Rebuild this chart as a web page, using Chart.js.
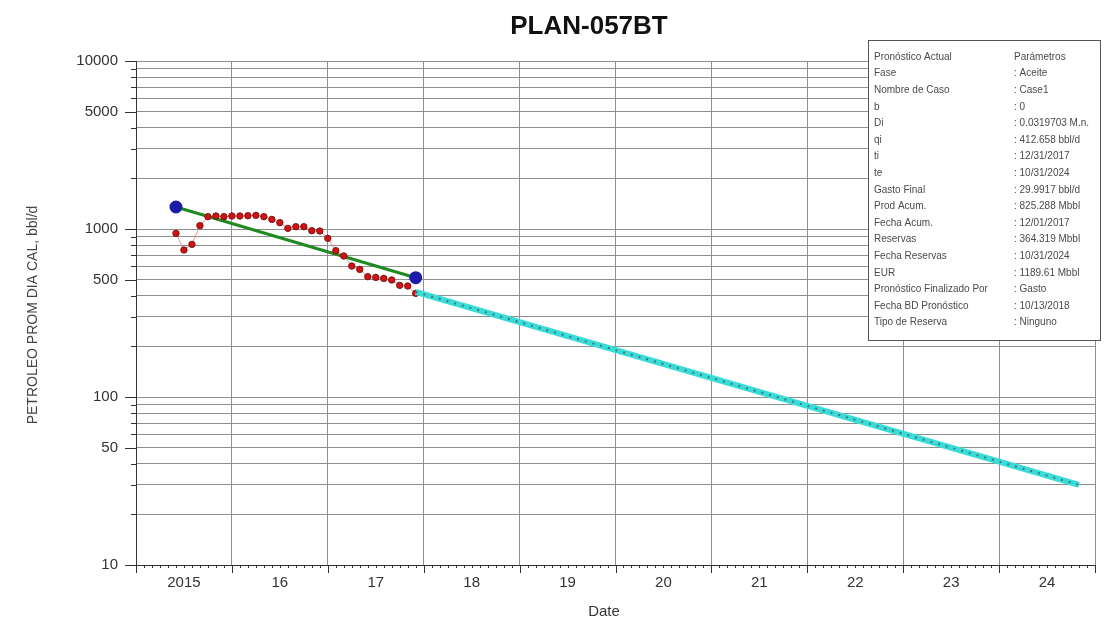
<!DOCTYPE html>
<html>
<head>
<meta charset="utf-8">
<script src="https://cdn.jsdelivr.net/npm/chart.js@4"></script>
<style>
  body { margin: 0; background: #fff; }
  #wrap { width: 1107px; height: 623px; position: relative; }
</style>
</head>
<body>
<div id="wrap"><canvas id="declineChart"></canvas></div>
<script>
// --- data ---
const histDates = [
    '2015-06-01', '2015-07-01', '2015-08-01', '2015-09-01', '2015-10-01', '2015-11-01', '2015-12-01',
    '2016-01-01', '2016-02-01', '2016-03-01', '2016-04-01', '2016-05-01', '2016-06-01',
    '2016-07-01', '2016-08-01', '2016-09-01', '2016-10-01', '2016-11-01', '2016-12-01',
    '2017-01-01', '2017-02-01', '2017-03-01', '2017-04-01', '2017-05-01', '2017-06-01',
    '2017-07-01', '2017-08-01', '2017-09-01', '2017-10-01', '2017-11-01', '2017-12-01'
];
const histRate = [
    942, 750, 810, 1047, 1184, 1195, 1184,
    1195, 1195, 1200, 1206, 1184, 1141,
    1091, 1009, 1032, 1032, 977, 973,
    880, 743, 691, 602, 575, 520,
    515, 508, 497, 462, 458, 414
];
const fitDates = ['2015-06-01', '2017-12-01'];
const fitRate = [1352, 513];
const forecastDates = ['2017-12-01', '2024-10-31'];
const forecastRate = [422, 30];

const yearLabels = ['2015', '16', '17', '18', '19', '20', '21', '22', '23', '24'];
const yTickLabels = [10, 50, 100, 500, 1000, 5000, 10000];

const statLabels = ['Pronóstico Actual', 'Fase', 'Nombre de Caso', 'b', 'Di', 'qi', 'ti', 'te',
    'Gasto Final', 'Prod Acum.', 'Fecha Acum.', 'Reservas', 'Fecha Reservas', 'EUR',
    'Pronóstico Finalizado Por', 'Fecha BD Pronóstico', 'Tipo de Reserva'];
const statValues = ['Parámetros', ': Aceite', ': Case1', ': 0', ': 0.0319703 M.n.', ': 412.658 bbl/d',
    ': 12/31/2017', ': 10/31/2024', ': 29.9917 bbl/d', ': 825.288 Mbbl', ': 12/01/2017',
    ': 364.319 Mbbl', ': 10/31/2024', ': 1189.61 Mbbl', ': Gasto', ': 10/13/2018', ': Ninguno'];

// date string -> decimal year
function toYear(s) {
    const [y, m, d] = s.split('-').map(Number);
    return y + (m - 1) / 12 + (d - 1) / 365;
}
function pts(dates, vals) {
    return dates.map((d, i) => ({ x: toYear(d), y: vals[i] }));
}

const FONT = "'Liberation Sans', Arial, sans-serif";
const GRID = '#8f8f8f';

// tick marks, axis titles, title and parameter box
const decor = {
    id: 'decor',
    afterDraw(chart) {
        const { ctx, chartArea: a, scales: { x, y } } = chart;
        const line = (x1, y1, x2, y2) => { ctx.beginPath(); ctx.moveTo(x1, y1); ctx.lineTo(x2, y2); ctx.stroke(); };
        ctx.save();
        ctx.strokeStyle = '#333';
        ctx.lineWidth = 1;
        for (let m = 0; m <= 120; m++) {
            const px = Math.round(x.getPixelForValue(2015 + m / 12)) + 0.5;
            line(px, a.bottom, px, a.bottom + (m % 12 === 0 ? 8 : 3));
        }
        y.ticks.forEach(t => {
            const py = Math.round(y.getPixelForValue(t.value)) + 0.5;
            const len = yTickLabels.includes(t.value) ? 11 : 5;
            line(a.left - len, py, a.left, py);
        });
        line(a.left - 11, Math.round(a.bottom) + 0.5, a.left, Math.round(a.bottom) + 0.5);

        // titles
        ctx.fillStyle = '#111';
        ctx.font = 'bold 26px ' + FONT;
        ctx.textAlign = 'center';
        ctx.textBaseline = 'middle';
        ctx.fillText('PLAN-057BT', 589, 27);

        ctx.fillStyle = '#333';
        ctx.font = '15px ' + FONT;
        ctx.fillText('Date', 604, 612);
        ctx.save();
        ctx.translate(33, 315);
        ctx.rotate(-Math.PI / 2);
        ctx.fillStyle = '#444';
        ctx.font = '14px ' + FONT;
        ctx.fillText('PETROLEO PROM DIA CAL, bbl/d', 0, 0);
        ctx.restore();

        // parameter box
        ctx.fillStyle = '#fff';
        ctx.fillRect(868, 40, 232, 300);
        ctx.strokeStyle = '#555';
        ctx.strokeRect(868.5, 40.5, 232, 300);
        ctx.font = '10px ' + FONT;
        ctx.fillStyle = '#4a4a4a';
        ctx.textAlign = 'left';
        statLabels.forEach((lab, i) => {
            const ty = 57 + i * 16.6;
            ctx.fillText(lab, 874, ty);
            ctx.fillText(statValues[i], 1014, ty);
        });
        ctx.restore();
    }
};

new Chart(document.getElementById('declineChart').getContext('2d'), {
    type: 'scatter',
    data: {
        datasets: [
            {
                label: 'Pronóstico',
                data: pts(forecastDates, forecastRate),
                showLine: true,
                borderColor: 'rgba(80,80,80,0.75)',
                borderWidth: 2,
                borderDash: [2, 6],
                pointRadius: 0,
                order: 1
            },
            {
                label: 'Pronóstico base',
                data: pts(forecastDates, forecastRate),
                showLine: true,
                borderColor: '#38dcd8',
                borderWidth: 6,
                pointRadius: 0,
                order: 2
            },
            {
                label: 'Histórico',
                data: pts(histDates, histRate),
                showLine: true,
                borderColor: 'rgba(225,120,120,0.8)',
                borderWidth: 1,
                pointRadius: 3.2,
                pointBackgroundColor: '#d51010',
                pointBorderColor: '#7a1515',
                pointBorderWidth: 1,
                order: 3
            },
            {
                label: 'Ajuste',
                data: pts(fitDates, fitRate),
                showLine: true,
                borderColor: '#1f8a1f',
                borderWidth: 3,
                pointRadius: 5,
                pointBackgroundColor: '#1c1ca8',
                pointBorderColor: '#1c1ca8',
                order: 4
            }
        ]
    },
    options: {
        responsive: true,
        maintainAspectRatio: false,
        animation: false,
        layout: { padding: { top: 61, right: 12, left: 0, bottom: 0 } },
        plugins: {
            legend: { display: false },
            tooltip: { enabled: false }
        },
        scales: {
            x: {
                type: 'linear',
                min: 2015,
                max: 2025,
                afterBuildTicks(scale) {
                    const t = [];
                    for (let m = 0; m <= 120; m++) t.push({ value: 2015 + m / 12 });
                    scale.ticks = t;
                },
                afterFit(scale) { scale.height = 58; },
                grid: {
                    drawTicks: false,
                    color: c => Math.abs(c.tick.value - Math.round(c.tick.value)) < 1e-6 ? GRID : 'transparent'
                },
                border: { color: '#333', width: 1 },
                ticks: {
                    autoSkip: false,
                    maxRotation: 0,
                    padding: 9,
                    color: '#333',
                    font: { family: FONT, size: 15 },
                    callback: (v, i) => (i % 12 === 6 ? yearLabels[(i - 6) / 12] : '')
                }
            },
            y: {
                type: 'logarithmic',
                min: 10,
                max: 10000,
                afterBuildTicks(scale) {
                    const t = [];
                    for (let p = 10; p < 10000; p *= 10) {
                        for (let k = 1; k <= 9; k++) t.push({ value: k * p });
                    }
                    t.push({ value: 10000 });
                    scale.ticks = t;
                },
                afterFit(scale) { scale.width = 136; },
                grid: { drawTicks: false, color: GRID },
                border: { color: '#333', width: 1 },
                ticks: {
                    autoSkip: false,
                    padding: 18,
                    color: '#333',
                    font: { family: FONT, size: 15 },
                    callback: v => (yTickLabels.includes(v) ? String(v) : '')
                }
            }
        }
    },
    plugins: [decor]
});
</script>
</body>
</html>
